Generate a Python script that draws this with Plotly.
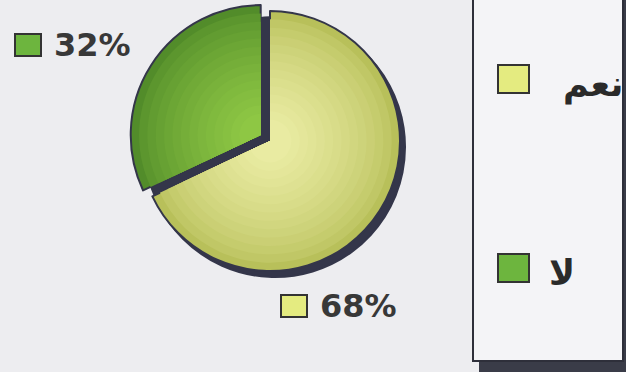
import plotly.graph_objects as go

W, H = 626, 372

labels = ["نعم", "لا"]
values = [68, 32]
edge_colors = ["#b8c05a", "#528c2a"]
inner_colors = ["#e9eba2", "#8ec744"]
swatch_colors = ["#e4eb80", "#6db53e"]
pulls = [0, 1]  # which slice is pulled out


def px_x(x):
    return x / W


def px_y(y):
    return 1 - y / H


def mix(c1, c2, t):
    a = [int(c1[i:i + 2], 16) for i in (1, 3, 5)]
    b = [int(c2[i:i + 2], 16) for i in (1, 3, 5)]
    return "#" + "".join(f"{round(a[k] + (b[k] - a[k]) * t):02x}" for k in range(3))


def pie_domain(cx, cy, half):
    return dict(x=[px_x(cx - half), px_x(cx + half)],
                y=[max(0, px_y(cy + half)), min(1, px_y(cy - half))])


fig = go.Figure()

cx, cy, R, d = 270, 141, 130, 11

# shadow behind the pie
fig.add_trace(go.Pie(
    labels=labels, values=values, sort=False, direction="clockwise",
    marker=dict(colors=["#34364a", "#34364a"], line=dict(color="#34364a", width=2)),
    domain=pie_domain(cx + 5, cy + 6, R),
    textinfo="none", hoverinfo="skip", showlegend=False
))

# stacked layers to fake a radial gradient
steps = 14
for i in range(steps):
    r = R * (1 - i / steps * 0.9)
    t = i / (steps - 1)
    cols = [mix(edge_colors[k], inner_colors[k], t ** 0.7) for k in range(2)]
    fig.add_trace(go.Pie(
        labels=labels, values=values, sort=False, direction="clockwise",
        pull=[p * d / r for p in pulls],
        marker=dict(colors=cols,
                    line=dict(color="#34364a", width=2 if i == 0 else 0)),
        domain=pie_domain(cx, cy, r + d),
        textinfo="none",
        hoverinfo="label+percent" if i == 0 else "skip",
        showlegend=False
    ))

shapes = []
annotations = []

# legend box with shadow
shapes.append(dict(type="rect", xref="paper", yref="paper",
                   x0=px_x(479), x1=px_x(640), y0=px_y(372), y1=px_y(-5),
                   fillcolor="#3a3c48", line=dict(width=0), layer="below"))
shapes.append(dict(type="rect", xref="paper", yref="paper",
                   x0=px_x(473), x1=px_x(623), y0=px_y(361), y1=px_y(-5),
                   fillcolor="#f4f4f7", line=dict(color="#2e2f3a", width=2), layer="below"))

# legend entries
legend_y = [79, 268]
legend_x = [561, 547]
for k in range(len(labels)):
    shapes.append(dict(type="rect", xref="paper", yref="paper",
                       x0=px_x(498), x1=px_x(529), y0=px_y(legend_y[k] + 14), y1=px_y(legend_y[k] - 14),
                       fillcolor=swatch_colors[k], line=dict(color="#333333", width=2)))
    annotations.append(dict(x=px_x(legend_x[k]), y=px_y(legend_y[k] + 5), xref="paper", yref="paper",
                            text=f"<b>{labels[k]}</b>", showarrow=False, xanchor="left", yanchor="middle",
                            font=dict(family="DejaVu Sans", size=35, color="#2a2a2a")))

# percentage labels
label_pos = [(281, 306), (15, 45)]
for k in range(len(values)):
    lx, ly = label_pos[k]
    shapes.append(dict(type="rect", xref="paper", yref="paper",
                       x0=px_x(lx), x1=px_x(lx + 26), y0=px_y(ly + 11), y1=px_y(ly - 11),
                       fillcolor=swatch_colors[k], line=dict(color="#333333", width=2)))
    annotations.append(dict(x=px_x(lx + 37), y=px_y(ly), xref="paper", yref="paper",
                            text=f"<b>{values[k]}%</b>", showarrow=False, xanchor="left", yanchor="middle",
                            font=dict(family="DejaVu Sans", size=32, color="#383838")))

fig.update_layout(
    width=W, height=H,
    margin=dict(l=0, r=0, t=0, b=0),
    paper_bgcolor="#ededf0",
    plot_bgcolor="#ededf0",
    shapes=shapes,
    annotations=annotations,
    showlegend=False
)

fig.write_html("out.html", config={"displayModeBar": False},
               post_script="document.body.style.margin='0px';")
